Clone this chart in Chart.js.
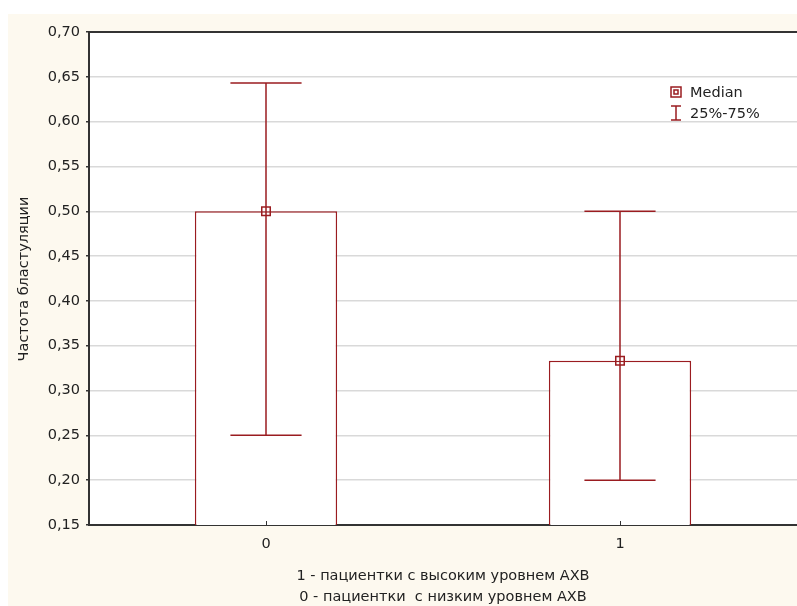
<!DOCTYPE html>
<html>
<head>
<meta charset="utf-8">
<script src="https://cdn.jsdelivr.net/npm/chart.js@4/dist/chart.umd.min.js"></script>
<style>
html,body{margin:0;padding:0;background:#fff;}
#wrap{position:relative;width:797px;height:606px;}
canvas{display:block;}
</style>
</head>
<body>
<div id="wrap"><canvas id="c" width="797" height="606"></canvas></div>
<script>
const categories = ['0', '1'];
const medians = [0.5, 0.3333];
const q1 = [0.25, 0.2];
const q3 = [0.643, 0.5];
const yTicks = [0.15, 0.20, 0.25, 0.30, 0.35, 0.40, 0.45, 0.50, 0.55, 0.60, 0.65, 0.70];
const yTitle = 'Частота бластуляции';
const xTitleLines = ['1 - пациентки с высоким уровнем АХВ', '0 - пациентки  с низким уровнем АХВ'];
const legendLabels = ['Median', '25%-75%'];

const RED = '#9a1c20';
const FONT = '"DejaVu Sans", Verdana, sans-serif';
const FS = 14.5;

const bgPlugin = {
  id: 'bg',
  beforeDraw(chart) {
    const ctx = chart.ctx, a = chart.chartArea;
    ctx.save();
    ctx.fillStyle = '#fff';
    ctx.fillRect(0, 0, chart.width, chart.height);
    ctx.fillStyle = '#fdf9ef';
    ctx.fillRect(8, 14, chart.width - 8, chart.height - 14);
    ctx.fillStyle = '#fff';
    ctx.fillRect(a.left, a.top, a.right - a.left, a.bottom - a.top);
    ctx.restore();
  }
};

const overlayPlugin = {
  id: 'overlay',
  afterDatasetsDraw(chart) {
    const ctx = chart.ctx, a = chart.chartArea;
    const xs = chart.scales.x, ys = chart.scales.y;
    const barMeta = chart.getDatasetMeta(0);
    ctx.save();
    ctx.strokeStyle = RED;
    ctx.lineWidth = 1.5;
    for (let i = 0; i < categories.length; i++) {
      const x = xs.getPixelForValue(i);
      const bw = barMeta.data[i].width;
      const half = bw / 4;
      const yTop = ys.getPixelForValue(q3[i]);
      const yBot = ys.getPixelForValue(q1[i]);
      ctx.beginPath();
      ctx.moveTo(x, yTop); ctx.lineTo(x, yBot);
      ctx.moveTo(x - half, yTop); ctx.lineTo(x + half, yTop);
      ctx.moveTo(x - half, yBot); ctx.lineTo(x + half, yBot);
      ctx.stroke();
    }
    // top border
    ctx.strokeStyle = '#333';
    ctx.lineWidth = 2;
    ctx.beginPath();
    ctx.moveTo(a.left - 1, a.top); ctx.lineTo(a.right, a.top);
    ctx.stroke();
    // x ticks inward
    ctx.lineWidth = 1;
    for (let i = 0; i < categories.length; i++) {
      const x = Math.round(xs.getPixelForValue(i)) + 0.5;
      ctx.beginPath(); ctx.moveTo(x, a.bottom); ctx.lineTo(x, a.bottom - 4); ctx.stroke();
    }
    // legend
    ctx.strokeStyle = RED;
    ctx.lineWidth = 1.5;
    ctx.strokeRect(671, 87, 10, 10);
    ctx.strokeRect(674, 90, 4, 4);
    ctx.beginPath();
    ctx.moveTo(676, 106); ctx.lineTo(676, 120);
    ctx.moveTo(671, 106); ctx.lineTo(681, 106);
    ctx.moveTo(671, 120); ctx.lineTo(681, 120);
    ctx.stroke();
    ctx.fillStyle = '#222';
    ctx.font = FS + 'px ' + FONT;
    ctx.textBaseline = 'middle';
    ctx.textAlign = 'left';
    ctx.fillText(legendLabels[0], 690, 93);
    ctx.fillText(legendLabels[1], 690, 114);
    // titles
    ctx.textAlign = 'center';
    const cx = 443;
    ctx.fillText(xTitleLines[0], cx, 576);
    ctx.fillText(xTitleLines[1], cx, 597);
    ctx.save();
    ctx.translate(24, 279);
    ctx.rotate(-Math.PI / 2);
    ctx.fillText(yTitle, 0, 0);
    ctx.restore();
    ctx.restore();
  }
};

new Chart(document.getElementById('c'), {
  data: {
    labels: categories,
    datasets: [
      {
        type: 'bar',
        data: medians,
        backgroundColor: '#fff',
        borderColor: RED,
        borderWidth: 1.5,
        borderSkipped: 'bottom',
        barPercentage: 1,
        categoryPercentage: 0.402,
        order: 2
      },
      {
        type: 'line',
        data: medians,
        showLine: false,
        pointStyle: 'rect',
        pointRadius: 6,
        pointBorderColor: RED,
        pointBackgroundColor: 'rgba(0,0,0,0)',
        pointBorderWidth: 1.5,
        order: 1
      }
    ]
  },
  options: {
    responsive: false,
    animation: false,
    devicePixelRatio: 1,
    layout: { autoPadding: false, padding: { left: 0, top: 32, right: -4, bottom: 0 } },
    plugins: { legend: { display: false }, tooltip: { enabled: false } },
    scales: {
      x: {
        type: 'category',
        offset: true,
        grid: { display: false, drawTicks: false },
        border: { color: '#333', width: 2 },
        ticks: { color: '#222', font: { size: FS, family: FONT }, padding: 11 },
        afterFit(s) { s.height = 81; s.paddingLeft = 0; s.paddingRight = 0; }
      },
      y: {
        min: 0.15,
        max: 0.70,
        afterBuildTicks(s) { s.ticks = yTicks.map(v => ({ value: v })); },
        grid: {
          color: (c) => (c.tick && (Math.abs(c.tick.value - 0.15) < 1e-6 || Math.abs(c.tick.value - 0.70) < 1e-6)) ? 'rgba(0,0,0,0)' : '#d9d9d9',
          lineWidth: 1.5,
          tickLength: 3,
          tickColor: '#333'
        },
        border: { color: '#333', width: 2 },
        ticks: {
          color: '#222',
          font: { size: FS, family: FONT },
          padding: 6,
          callback: (v) => Number(v).toFixed(2).replace('.', ',')
        },
        afterFit(s) { s.width = 89; s.paddingTop = 0; s.paddingBottom = 0; }
      }
    }
  },
  plugins: [bgPlugin, overlayPlugin]
});
</script>
</body>
</html>
